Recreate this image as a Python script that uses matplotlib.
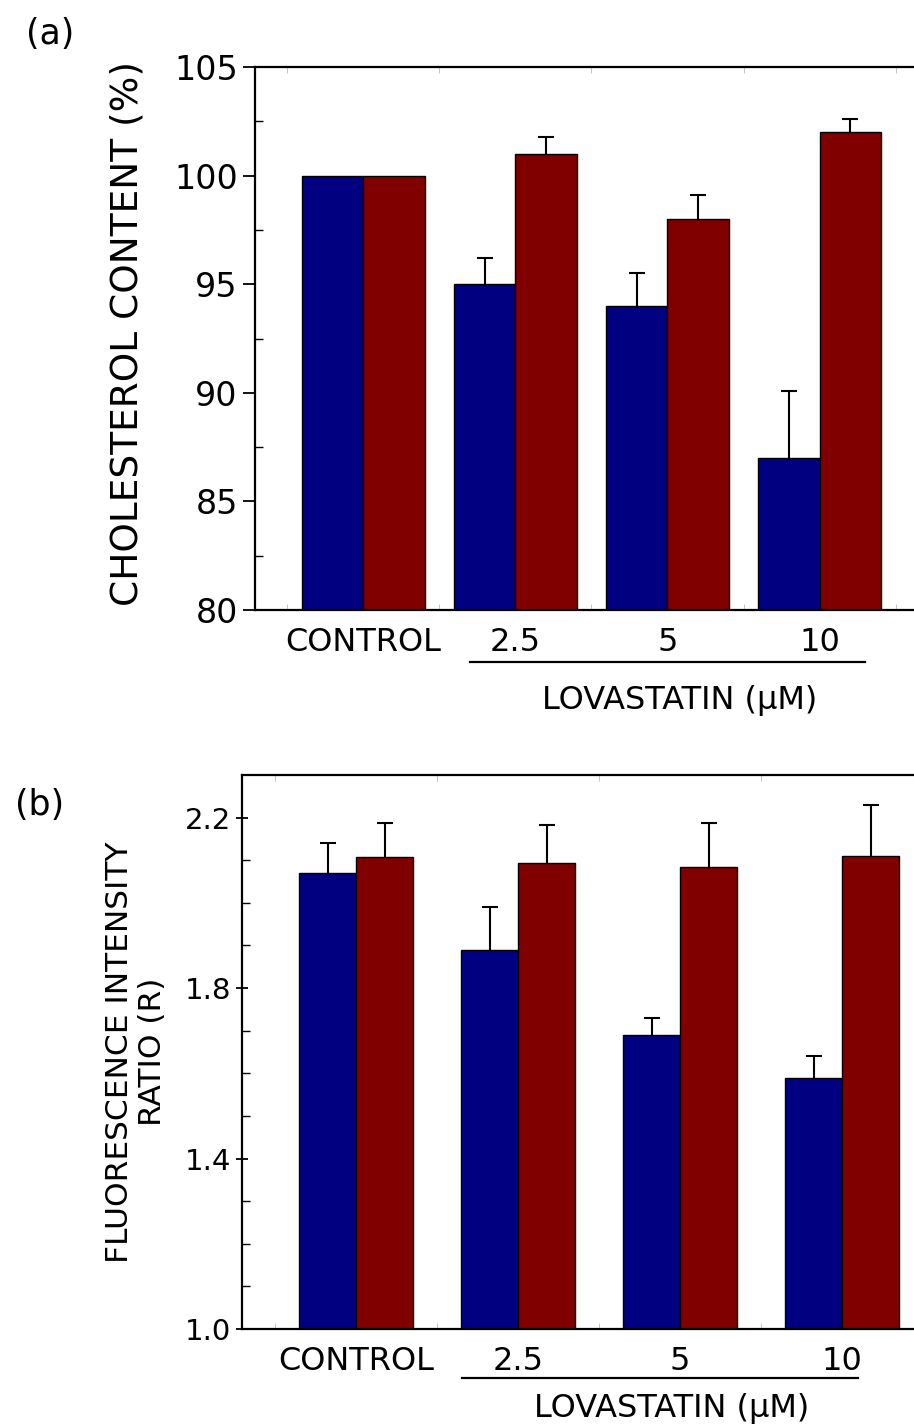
import numpy as np
import matplotlib
matplotlib.use("Agg")
import matplotlib.pyplot as plt
from matplotlib.ticker import MultipleLocator, FixedLocator, FormatStrFormatter

groups = ["CONTROL", "2.5", "5", "10"]

# panel (a) cholesterol content (%)
chol_blue = [100, 95, 94, 87]
chol_red = [100, 101, 98, 102]
chol_blue_err = [0, 1.2, 1.5, 3.1]
chol_red_err = [0, 0.8, 1.1, 0.6]

# panel (b) fluorescence intensity ratio
ratio_blue = [2.07, 1.89, 1.69, 1.59]
ratio_red = [2.107, 2.093, 2.084, 2.110]
ratio_blue_err = [0.07, 0.10, 0.04, 0.05]
ratio_red_err = [0.08, 0.09, 0.104, 0.12]

ratio_ticks = [1.0, 1.4, 1.8, 2.2]
ratio_minor = [1.1, 1.2, 1.3, 1.5, 1.6, 1.7, 1.9, 2.0, 2.1]

BLUE = "#000080"
RED = "#800000"

plt.rcParams['font.family'] = ['DejaVu Sans']

fig = plt.figure(figsize=(9.14, 14.25), dpi=100)
ax1 = fig.add_axes([255/914, 1-610/1425, 1-255/914, (610-67)/1425])
ax2 = fig.add_axes([242/914, 1-1329/1425, 1-242/914, (1329-775)/1425])


def draw(ax, blue, red, berr, rerr, width, tick_fs, label_fs):
    x = np.arange(len(groups))
    ax.bar(x - width/2, blue, width, color=BLUE, edgecolor="black", lw=1, zorder=2)
    ax.bar(x + width/2, red, width, color=RED, edgecolor="black", lw=1, zorder=2)
    # error bars sit behind the bars so only the upper half shows
    for xs, vals, errs in ((x - width/2, blue, berr), (x + width/2, red, rerr)):
        vals = np.array(vals)
        errs = np.array(errs)
        m = errs > 0
        ax.errorbar(xs[m], vals[m], yerr=errs[m], fmt="none",
                    ecolor="black", elinewidth=1.5, capsize=6, capthick=1.5, zorder=1)
    ax.spines["right"].set_visible(False)
    for s in ("left", "top", "bottom"):
        ax.spines[s].set_linewidth(1.6)
        ax.spines[s].set_zorder(3)
    ax.set_xticks(x)
    ax.set_xticklabels(groups, fontsize=label_fs)
    ax.tick_params(axis="x", which="major", length=0, pad=12)
    ax.xaxis.set_minor_locator(MultipleLocator(0.5))
    ax.tick_params(axis="x", which="minor", direction="in", length=4, color="#bbbbbb",
                   top=True, bottom=True)
    ax.tick_params(axis="y", which="major", labelsize=tick_fs, length=9, width=1.3)
    ax.tick_params(axis="y", which="minor", direction="in", length=6, width=1.0)


draw(ax1, chol_blue, chol_red, chol_blue_err, chol_red_err, 0.404, 24, 23)
ax1.set_xlim(-0.71, 3.62)
ax1.set_ylim(80, 105)
ax1.yaxis.set_major_locator(MultipleLocator(5))
ax1.yaxis.set_minor_locator(MultipleLocator(2.5))
ax1.tick_params(axis="y", which="major", direction="out")

draw(ax2, ratio_blue, ratio_red, ratio_blue_err, ratio_red_err, 0.352, 21, 23)
ax2.set_xlim(-0.704, 3.444)
ax2.set_ylim(1.0, 2.3)
ax2.yaxis.set_major_locator(FixedLocator(ratio_ticks))
ax2.yaxis.set_minor_locator(FixedLocator(ratio_minor))
ax2.yaxis.set_major_formatter(FormatStrFormatter("%.1f"))
ax2.tick_params(axis="y", which="major", direction="inout")

# lovastatin bracket lines and labels
for ax, x0, x1, yl, xt, yt in ((ax1, 0.70, 3.30, -0.096, 2.08, -0.166),
                               (ax2, 0.654, 3.10, -0.088, 1.95, -0.143)):
    tr = ax.get_xaxis_transform()
    ax.plot([x0, x1], [yl, yl], color="black", lw=1.6, transform=tr, clip_on=False)
    ax.text(xt, yt, "LOVASTATIN (µM)", transform=tr, ha="center", va="center", fontsize=23)

fig.text(128/914, 1-333/1425, "CHOLESTEROL CONTENT (%)", rotation=90,
         ha="center", va="center", fontsize=27)
fig.text(136/914, 1-1052/1425, "FLUORESCENCE INTENSITY\nRATIO (R)", rotation=90,
         ha="center", va="center", fontsize=22.5, multialignment="center", linespacing=1.2)

fig.text(50/914, 1-34/1425, "(a)", ha="center", va="center", fontsize=25)
fig.text(40/914, 1-805/1425, "(b)", ha="center", va="center", fontsize=25)

fig.savefig("out.png", dpi=100)
